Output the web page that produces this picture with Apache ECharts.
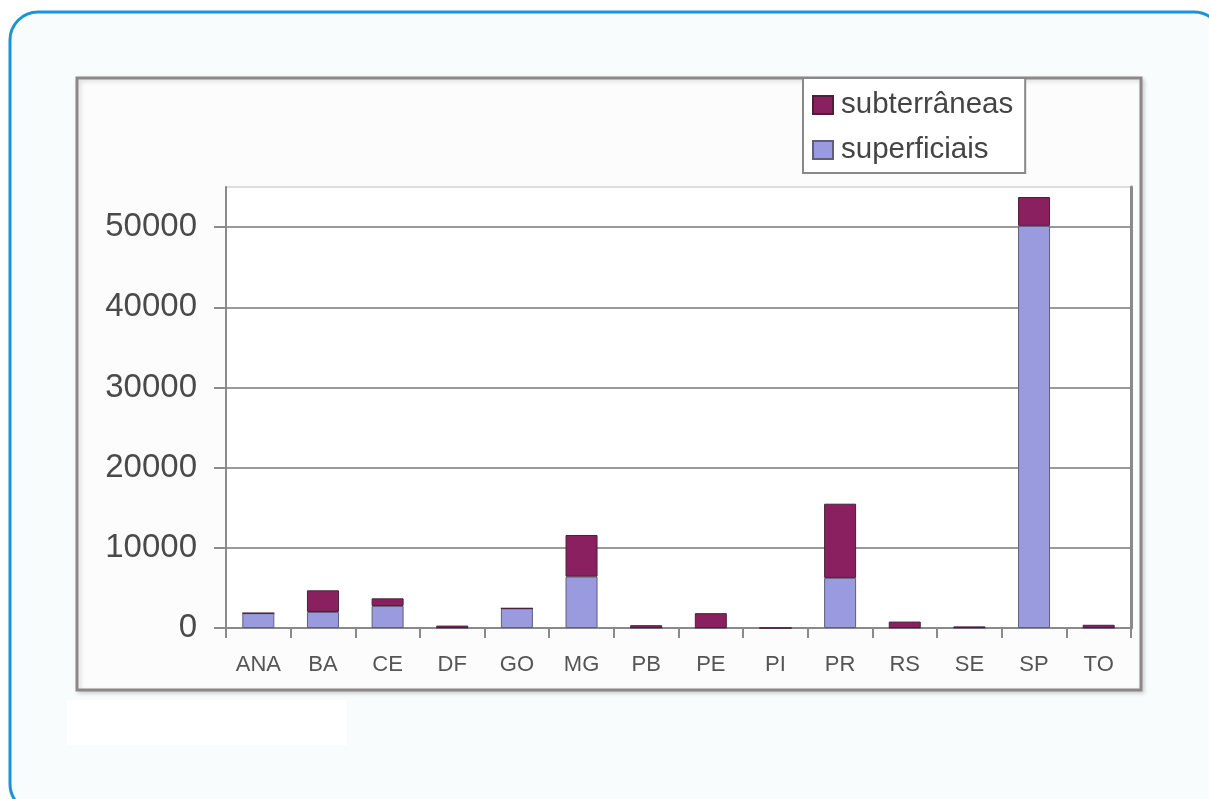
<!DOCTYPE html>
<html>
<head>
<meta charset="utf-8">
<script src="https://cdn.jsdelivr.net/npm/echarts@6/dist/echarts.min.js"></script>
<style>
html,body{margin:0;padding:0;background:#ffffff;}
#chart{width:1209px;height:799px;}
</style>
</head>
<body>
<div id="chart"></div>
<script>
var categories = ['ANA','BA','CE','DF','GO','MG','PB','PE','PI','PR','RS','SE','SP','TO'];
var superficiais = [1850, 2000, 2750, 0, 2450, 6400, 0, 0, 0, 6250, 0, 0, 50150, 0];
var subterraneas = [0, 2700, 950, 300, 0, 5200, 350, 1850, 0, 9250, 800, 200, 3600, 400];
var yTicks = [0, 10000, 20000, 30000, 40000, 50000];

var chart = echarts.init(document.getElementById('chart'), null, {renderer:'canvas'});
var font = '"Liberation Sans", Arial, sans-serif';
chart.setOption({
  animation: false,
  backgroundColor: '#ffffff',
  graphic: [
    {type:'rect', z:-10, shape:{x:10, y:12, width:1212, height:800, r:28},
     style:{fill:'#f9fcfd', stroke:'#1b93d9', lineWidth:3}},
    {type:'rect', z:-9, shape:{x:67, y:700, width:280, height:45},
     style:{fill:'#ffffff'}},
    {type:'rect', z:-9, shape:{x:77, y:78, width:1064, height:612},
     style:{fill:'#fdfcfc', stroke:'#8c8888', lineWidth:3, shadowColor:'rgba(0,0,0,0.15)', shadowBlur:4, shadowOffsetX:2, shadowOffsetY:2}},
    {type:'rect', z:-8, shape:{x:226, y:187, width:905, height:441},
     style:{fill:'#ffffff'}}
  ],
  legend: {
    data: ['subterrâneas', 'superficiais'],
    orient: 'vertical',
    left: 803, top: 78,
    padding: [12, 12, 8, 9],
    itemWidth: 20, itemHeight: 18, itemGap: 15,
    backgroundColor: '#ffffff',
    borderColor: '#888',
    borderWidth: 2,
    borderRadius: 0,
    icon: 'rect',
    textStyle: {fontFamily: font, fontSize: 29.5, color: '#444', padding: [0, 0, 0, 3]}
  },
  grid: {left: 226, top: 187, right: 78, bottom: 171, containLabel: false},
  xAxis: {
    type: 'category',
    data: categories,
    axisLine: {lineStyle: {color: '#8a8a8a', width: 2}},
    axisTick: {show: true, length: 10, lineStyle: {color: '#8a8a8a', width: 2}},
    axisLabel: {fontFamily: font, fontSize: 22, color: '#555', margin: 26}
  },
  yAxis: [{
    type: 'value',
    min: 0, max: 55000, interval: 10000,
    axisLine: {show: true, lineStyle: {color: '#8a8a8a', width: 2}},
    axisTick: {show: true, length: 12, lineStyle: {color: '#8a8a8a', width: 2}},
    axisLabel: {fontFamily: font, fontSize: 33, color: '#4a4a4a', margin: 29, showMaxLabel: false,
      formatter: function(v){ return yTicks.indexOf(v) >= 0 ? String(v) : ''; }},
    splitLine: {show: true, lineStyle: {color: ['#9a9a9a','#9a9a9a','#9a9a9a','#9a9a9a','#9a9a9a','#9a9a9a','#dddddd'], width: 2}}
  }, {
    type: 'value',
    position: 'right',
    min: 0, max: 55000, interval: 10000,
    axisLine: {show: true, lineStyle: {color: '#8a8a8a', width: 3}},
    axisTick: {show: false},
    axisLabel: {show: false},
    splitLine: {show: false}
  }],
  series: [
    {name: 'superficiais', type: 'bar', stack: 'total', data: superficiais, barWidth: 32,
     itemStyle: {color: '#9a9ade', borderColor: '#5f5f78', borderWidth: 1}},
    {name: 'subterrâneas', type: 'bar', stack: 'total', data: subterraneas, barWidth: 32,
     itemStyle: {color: '#8b2060', borderColor: '#4a2038', borderWidth: 1}}
  ]
});
</script>
</body>
</html>
